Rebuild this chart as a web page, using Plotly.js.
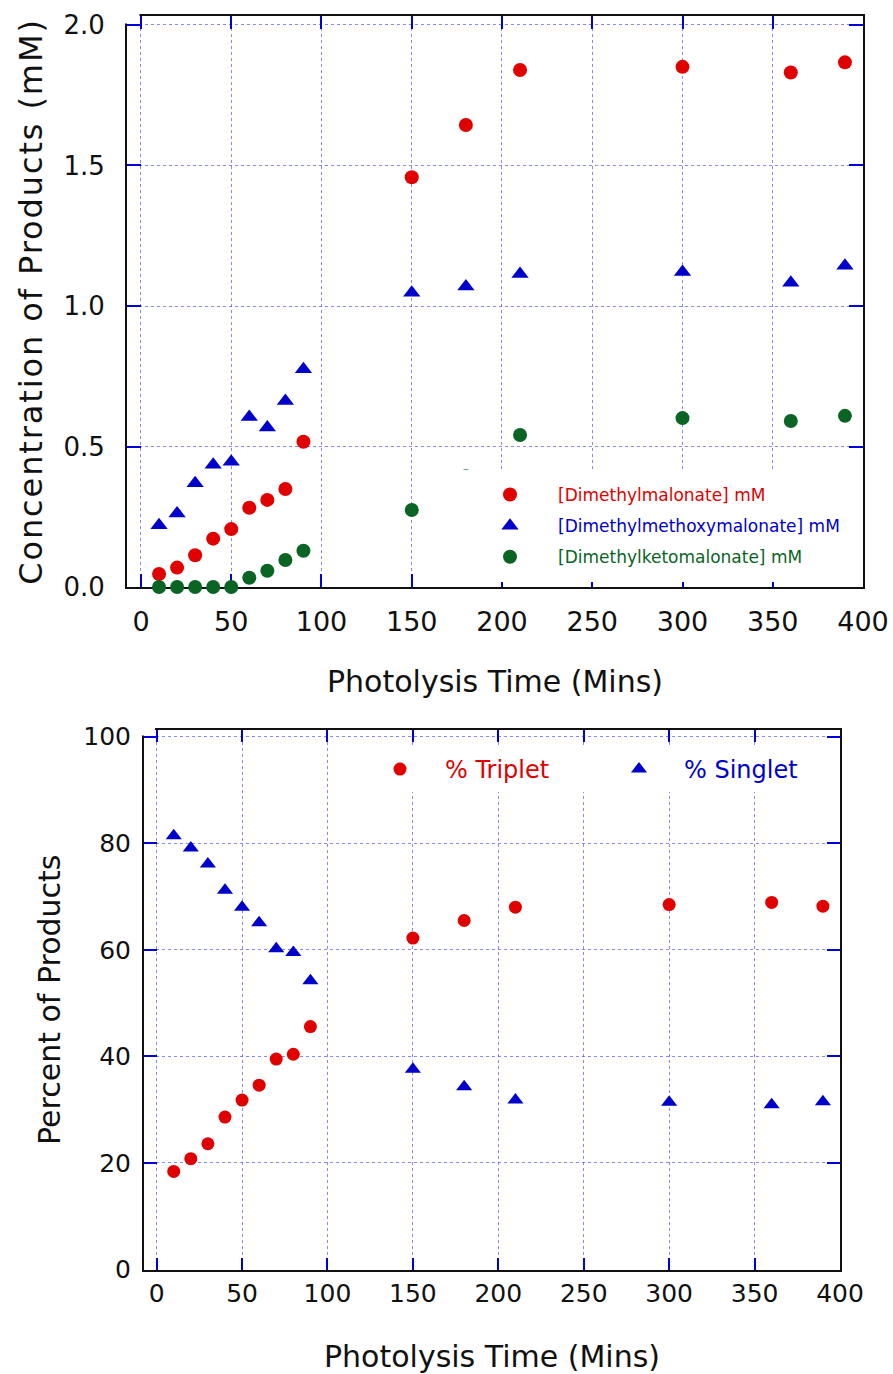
<!DOCTYPE html>
<html>
<head>
<meta charset="utf-8">
<script src="https://cdn.plot.ly/plotly-3.0.1.min.js"></script>
<style>
html,body{margin:0;padding:0;background:#fff;}
.ytitle{letter-spacing:1.9px;}
</style>
</head>
<body>
<div id="chart" style="width:893px;height:1374px;"></div>
<script>
// ---- data ----
const timeMin = [10, 20, 30, 40, 50, 60, 70, 80, 90, 150, 180, 210, 300, 360, 390];
const dimethylmalonate = [0.046, 0.069, 0.113, 0.172, 0.206, 0.282, 0.310, 0.349, 0.517, 1.458, 1.644, 1.840, 1.851, 1.831, 1.867];
const dimethylmethoxymalonate = [0.220, 0.262, 0.369, 0.435, 0.446, 0.605, 0.568, 0.662, 0.775, 1.047, 1.069, 1.114, 1.121, 1.083, 1.143];
const dimethylketomalonate = [0, 0, 0, 0, 0, 0.033, 0.058, 0.096, 0.129, 0.274, 0.394, 0.541, 0.601, 0.591, 0.609];
const pctTriplet = [18.4, 20.8, 23.6, 28.6, 31.8, 34.6, 39.5, 40.4, 45.6, 62.2, 65.5, 68.0, 68.5, 68.9, 68.2];
const pctSinglet = [81.4, 79.1, 76.1, 71.2, 68.0, 65.1, 60.2, 59.5, 54.2, 37.6, 34.3, 31.8, 31.4, 30.9, 31.5];

const RED = '#e00000', BLUE = '#0000cc', GREEN = '#0a6424';
const FONT = 'DejaVu Sans';

const traces = [
  {x: timeMin, y: dimethylmalonate, type: 'scatter', mode: 'markers', cliponaxis: false,
   name: '<span style="color:' + RED + '">[Dimethylmalonate] mM</span>', legendgroup: 'a', legend: 'legend',
   marker: {symbol: 'circle', size: 14, color: RED}, xaxis: 'x', yaxis: 'y'},
  {x: timeMin, y: dimethylmethoxymalonate, type: 'scatter', mode: 'markers', cliponaxis: false,
   name: '<span style="color:' + BLUE + '">[Dimethylmethoxymalonate] mM</span>', legendgroup: 'b', legend: 'legend',
   marker: {symbol: 'triangle-up', size: 15, color: BLUE}, xaxis: 'x', yaxis: 'y'},
  {x: timeMin, y: dimethylketomalonate, type: 'scatter', mode: 'markers', cliponaxis: false,
   name: '<span style="color:' + GREEN + '">[Dimethylketomalonate] mM</span>', legendgroup: 'c', legend: 'legend',
   marker: {symbol: 'circle', size: 14, color: GREEN}, xaxis: 'x', yaxis: 'y'},
  {x: timeMin, y: pctTriplet, type: 'scatter', mode: 'markers', cliponaxis: false,
   name: '<span style="color:' + RED + '">% Triplet</span>', legend: 'legend2',
   marker: {symbol: 'circle', size: 13, color: RED}, xaxis: 'x2', yaxis: 'y2'},
  {x: timeMin, y: pctSinglet, type: 'scatter', mode: 'markers', cliponaxis: false,
   name: '<span style="color:' + BLUE + '">% Singlet</span>', legend: 'legend2',
   marker: {symbol: 'triangle-up', size: 14, color: BLUE}, xaxis: 'x2', yaxis: 'y2'}
];

const W = 893, H = 1374;
const common = {
  showgrid: true, gridcolor: 'rgba(70,70,255,0.65)', griddash: 'dot', gridwidth: 1,
  zeroline: false, showline: true, linecolor: '#111', linewidth: 2, layer: 'below traces',
  ticks: 'inside', mirror: 'ticks', tickcolor: '#0000dd', tickwidth: 2,
  tickfont: {family: FONT, size: 26, color: '#111'}
};
const titleFont = {family: FONT, size: 30, color: '#111'};

// white masks that open the top-left corner of each frame (frame style of the original)
const shapes = [
  {type: 'rect', layer: 'above', xref: 'paper', yref: 'paper',
   x0: 124 / W, x1: 139.5 / W, y0: 1 - 23.5 / H, y1: 1 - 12 / H, fillcolor: '#fff', line: {width: 0}},
  {type: 'rect', layer: 'above', xref: 'paper', yref: 'paper',
   x0: 141 / W, x1: 155 / W, y0: 1 - 735.5 / H, y1: 1 - 726 / H, fillcolor: '#fff', line: {width: 0}}
];

const layout = {
  width: W, height: H, autosize: false,
  margin: {l: 0, r: 0, t: 0, b: 0},
  paper_bgcolor: '#fff', plot_bgcolor: '#fff',
  font: {family: FONT, color: '#111'},
  showlegend: true,
  xaxis: Object.assign({}, common, {
    domain: [127 / W, 863 / W], range: [-7.75, 400], anchor: 'y',
    tick0: 0, dtick: 50, ticklen: 13, ticklabelstandoff: 10,
    tickfont: {family: FONT, size: 27, color: '#111'},
    title: {text: 'Photolysis Time (Mins)', font: titleFont, standoff: 35}
  }),
  yaxis: Object.assign({}, common, {
    domain: [1 - 587 / H, 1 - 16 / H], range: [0, 2.032], anchor: 'x',
    tick0: 0, dtick: 0.5, tickformat: '.1f', ticklen: 14, ticklabelstandoff: 15,
    title: {text: 'Concentration of Products (mM)', font: {family: FONT, size: 32, color: '#111'}, standoff: 11}
  }),
  xaxis2: Object.assign({}, common, {
    domain: [144 / W, 840 / W], range: [-7.4, 400], anchor: 'y2',
    tick0: 0, dtick: 50, ticklen: 12, ticklabelstandoff: 0,
    tickfont: {family: FONT, size: 25, color: '#111'},
    title: {text: 'Photolysis Time (Mins)', font: titleFont, standoff: 42}
  }),
  yaxis2: Object.assign({}, common, {
    domain: [1 - 1269.5 / H, 1 - 730 / H], range: [0, 101.26], anchor: 'x2',
    tick0: 0, dtick: 20, ticklen: 13, ticklabelstandoff: 6,
    tickfont: {family: FONT, size: 25, color: '#111'},
    title: {text: 'Percent of Products', font: titleFont, standoff: 14}
  }),
  legend: {
    x: 455 / W, y: 1 - 470 / H, xanchor: 'left', yanchor: 'top',
    bgcolor: '#fff', bordercolor: '#fff', borderwidth: 7, font: {family: FONT, size: 17},
    itemwidth: 86, traceorder: 'grouped', tracegroupgap: 6
  },
  legend2: {
    orientation: 'h', x: 355 / W, y: 1 - 747 / H, xanchor: 'left', yanchor: 'top',
    bgcolor: '#fff', borderwidth: 0, font: {family: FONT, size: 24},
    itemwidth: 80, entrywidth: 144, entrywidthmode: 'pixels'
  },
  shapes: shapes
};

Plotly.newPlot('chart', traces, layout, {staticPlot: true, displayModeBar: false});
</script>
</body>
</html>
